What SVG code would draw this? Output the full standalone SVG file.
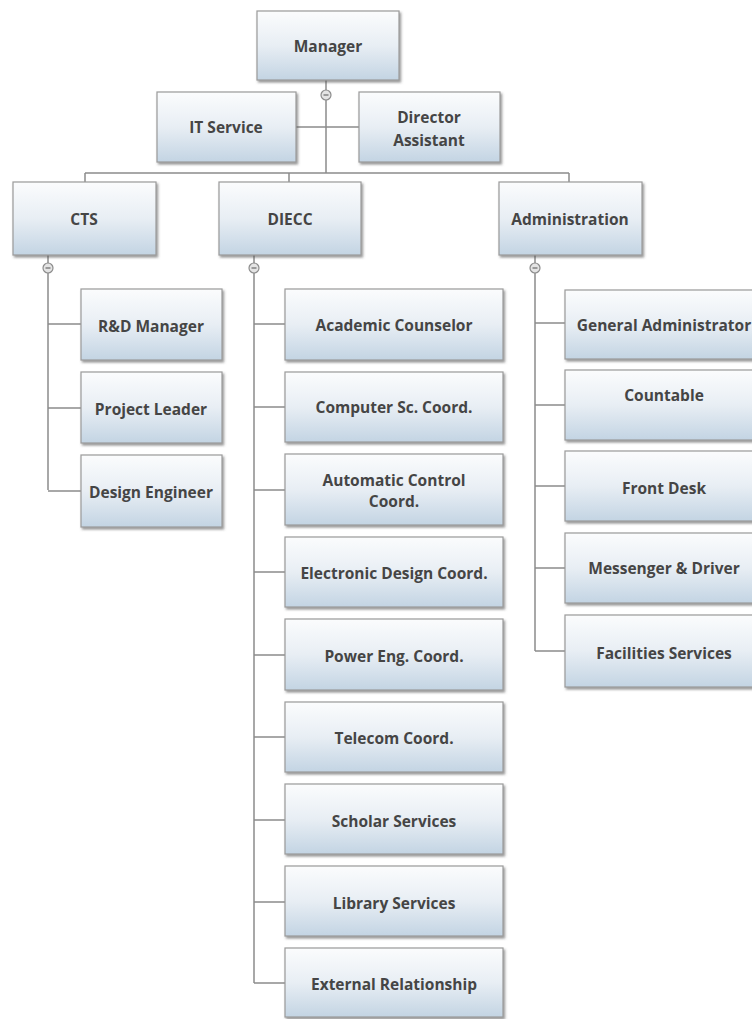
<svg xmlns="http://www.w3.org/2000/svg" width="752" height="1019" viewBox="0 0 752 1019">
<defs>
<linearGradient id="g" x1="0" y1="0" x2="0" y2="1">
<stop offset="0" stop-color="#fbfcfd"/>
<stop offset="0.5" stop-color="#e8eef4"/>
<stop offset="1" stop-color="#c3d4e3"/>
</linearGradient>
<filter id="sh" x="-10%" y="-10%" width="125%" height="130%">
<feDropShadow dx="1.5" dy="2" stdDeviation="1" flood-color="#555" flood-opacity="0.6"/>
</filter>
</defs>
<style>
.box{fill:url(#g);stroke:#9a9a9a;stroke-width:1.2;filter:url(#sh)}
.t{font-family:"Open Sans","Liberation Sans",sans-serif;font-weight:700;font-size:15.5px;fill:#454545;text-anchor:middle}
.c{fill:none;stroke:#8c8c8c;stroke-width:1.5}
.btn{fill:#e4e4e4;stroke:#8c8c8c;stroke-width:1.2}
.btnm{stroke:#6a6a6a;stroke-width:1.2}
</style>
<rect width="752" height="1019" fill="#ffffff"/>
<g id="connectors">
<path class="c" d="M326 80V173M296 127H359M85 173H569M85 173V182M289 173V182M569 173V182"/>
<path class="c" d="M48 255V490M48 324H81M48 408H81M48 491H81"/>
<path class="c" d="M254 255V983M254 324H285M254 407H285M254 490H285M254 572H285M254 655H285M254 737H285M254 820H285M254 902H285M254 983H285"/>
<path class="c" d="M535 255V651M535 323H565M535 405H565M535 486H565M535 568H565M535 651H565"/>
<circle class="btn" cx="326" cy="95" r="5"/><path class="btnm" d="M323.5 95H328.5"/>
<circle class="btn" cx="48" cy="268" r="5"/><path class="btnm" d="M45.5 268H50.5"/>
<circle class="btn" cx="254" cy="268" r="5"/><path class="btnm" d="M251.5 268H256.5"/>
<circle class="btn" cx="535" cy="268" r="5"/><path class="btnm" d="M532.5 268H537.5"/>
</g>
<g id="manager"><rect class="box" x="257" y="11" width="142" height="69"/><text class="t" x="328" y="52">Manager</text></g>
<g id="it-service"><rect class="box" x="157" y="92" width="139" height="70"/><text class="t" x="226" y="133">IT Service</text></g>
<g id="director-assistant"><rect class="box" x="359" y="92" width="141" height="70"/><text class="t" x="429" y="123">Director</text><text class="t" x="429" y="146">Assistant</text></g>
<g id="cts"><rect class="box" x="13" y="182" width="143" height="73"/><text class="t" x="84" y="225">CTS</text></g>
<g id="diecc"><rect class="box" x="219" y="182" width="142" height="73"/><text class="t" x="290" y="225">DIECC</text></g>
<g id="administration"><rect class="box" x="499" y="182" width="143" height="73"/><text class="t" x="570" y="225">Administration</text></g>
<g id="rd-manager"><rect class="box" x="81" y="289" width="141" height="71"/><text class="t" x="151" y="332">R&amp;D Manager</text></g>
<g id="project-leader"><rect class="box" x="81" y="372" width="141" height="71"/><text class="t" x="151" y="415">Project Leader</text></g>
<g id="design-engineer"><rect class="box" x="81" y="455" width="141" height="72"/><text class="t" x="151" y="498">Design Engineer</text></g>
<g id="academic-counselor"><rect class="box" x="285" y="289" width="218" height="71"/><text class="t" x="394" y="331">Academic Counselor</text></g>
<g id="computer-sc"><rect class="box" x="285" y="372" width="218" height="70"/><text class="t" x="394" y="413">Computer Sc. Coord.</text></g>
<g id="automatic-control"><rect class="box" x="285" y="454" width="218" height="71"/><text class="t" x="394" y="486">Automatic Control</text><text class="t" x="394" y="507">Coord.</text></g>
<g id="electronic-design"><rect class="box" x="285" y="537" width="218" height="70"/><text class="t" x="394" y="579">Electronic Design Coord.</text></g>
<g id="power-eng"><rect class="box" x="285" y="619" width="218" height="71"/><text class="t" x="394" y="662">Power Eng. Coord.</text></g>
<g id="telecom"><rect class="box" x="285" y="702" width="218" height="70"/><text class="t" x="394" y="744">Telecom Coord.</text></g>
<g id="scholar-services"><rect class="box" x="285" y="784" width="218" height="70"/><text class="t" x="394" y="827">Scholar Services</text></g>
<g id="library-services"><rect class="box" x="285" y="866" width="218" height="70"/><text class="t" x="394" y="909">Library Services</text></g>
<g id="external-relationship"><rect class="box" x="285" y="948" width="218" height="69"/><text class="t" x="394" y="990">External Relationship</text></g>
<g id="general-administrator"><rect class="box" x="565" y="290" width="198" height="69"/><text class="t" x="664" y="331">General Administrator</text></g>
<g id="countable"><rect class="box" x="565" y="370" width="198" height="70"/><text class="t" x="664" y="401">Countable</text></g>
<g id="front-desk"><rect class="box" x="565" y="451" width="198" height="70"/><text class="t" x="664" y="494">Front Desk</text></g>
<g id="messenger-driver"><rect class="box" x="565" y="533" width="198" height="70"/><text class="t" x="664" y="574">Messenger &amp; Driver</text></g>
<g id="facilities-services"><rect class="box" x="565" y="615" width="198" height="72"/><text class="t" x="664" y="659">Facilities Services</text></g>
</svg>
